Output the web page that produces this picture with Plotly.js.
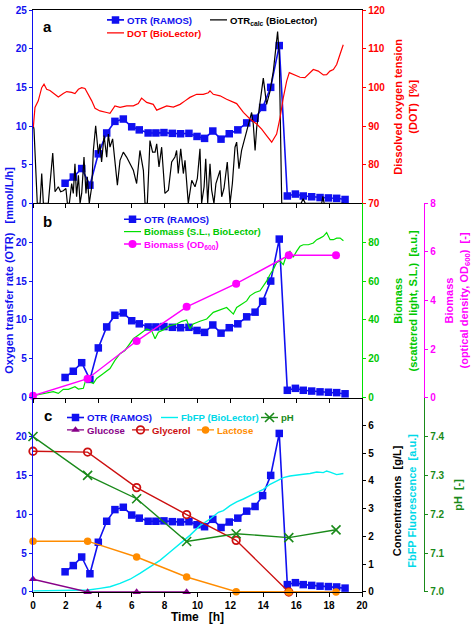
<!DOCTYPE html>
<html><head><meta charset="utf-8">
<script src="https://cdn.plot.ly/plotly-3.0.1.min.js"></script>
<style>html,body{margin:0;padding:0;background:#fff}#chart{width:473px;height:624px}</style>
</head><body><div id="chart"></div>
<script>
// ---------- data (time in h) ----------
const otrTime = [1.95,2.45,2.96,3.46,3.97,4.48,4.98,5.49,6.0,6.46,7.0,7.47,7.96,8.47,8.97,9.48,9.97,10.43,10.93,11.43,11.93,12.45,12.99,13.5,13.96,14.45,14.97,15.46,15.95,16.43,16.94,17.45,17.96,18.46,18.97];
const otrVals = [2.6,3.4,4.5,2.35,6.4,9.1,10.6,10.9,9.9,9.5,9.1,9.1,9.15,9.05,9.0,9.05,8.65,8.4,9.35,8.3,9.0,9.5,10.4,11.0,12.4,15.0,20.4,0.95,1.2,0.95,0.85,0.75,0.7,0.65,0.5];

const calcTime = [0.0,0.06,0.26,0.43,0.53,0.63,0.93,1.2,1.34,1.54,1.68,1.84,2.0,2.09,2.21,2.35,2.45,2.55,2.65,2.76,2.86,2.96,3.1,3.22,3.3,3.42,3.57,3.67,3.81,3.97,4.07,4.17,4.32,4.48,4.58,4.68,4.84,4.98,5.13,5.29,5.49,5.69,5.9,6.1,6.3,6.5,6.71,6.81,6.95,7.11,7.27,7.42,7.52,7.66,7.82,8.02,8.23,8.43,8.63,8.73,8.83,8.98,9.14,9.24,9.44,9.65,9.85,9.99,10.15,10.25,10.4,10.5,10.62,10.76,10.86,11.0,11.12,11.37,11.47,11.61,11.81,11.98,12.12,12.28,12.38,12.52,12.68,12.89,13.09,13.29,13.39,13.5,13.6,13.7,13.84,14.0,14.2,14.41,14.61,14.81,14.87,14.97,15.06,15.12,16.3,16.42,16.55,17.55,17.62,17.7,18.9];
const calcVals = [10.2,9.6,0,0,3.85,0,0,6.5,1.5,2.14,1.5,1.62,1.92,0,0,2.56,1.28,5.13,0.85,3.63,0,1.28,5.98,1.28,3.42,0,2.14,6.84,10.04,6.41,7.69,5.34,8.76,5.98,8.97,7.26,8.33,5.13,2.35,5.56,6.62,5.98,5.13,4.27,2.56,6.84,4.27,0,0,8.12,6.62,6.62,7.69,4.7,7.26,1.28,1.71,5.34,5.98,6.84,3.85,7.05,3.85,5.56,0,2.99,2.14,3.21,7.05,0,2.14,5.77,0,5.13,1.71,0,2.56,4.27,0.85,1.92,5.34,0,2.56,7.26,7.91,4.49,6.84,8.5,10.26,11.75,10.26,6.84,9.83,11.54,14.1,16.2,12.8,14.5,17.1,21.2,22.2,19.2,8.1,0,0,0.6,0,0,0.9,0,0];

const dotTime = [0.02,0.12,0.32,0.53,0.67,0.83,1.03,1.23,1.54,1.84,2.05,2.35,2.55,2.76,2.96,3.16,3.36,3.57,3.77,4.07,4.48,4.68,4.98,5.29,5.7,6.1,6.4,6.6,6.91,7.31,7.52,7.72,8.13,8.53,8.94,9.24,9.54,9.95,10.35,10.66,10.76,10.96,11.37,11.77,12.18,12.38,12.79,13.19,13.6,13.9,14.2,14.51,14.81,15.02,15.22,15.42,15.58,15.82,16.23,16.53,16.84,17.04,17.34,17.65,17.85,18.05,18.26,18.46,18.66,18.86];
const dotVals = [89.7,94.8,96.5,99.9,100.8,99.5,99.2,98.6,97.5,98.4,98.9,98.7,98.4,99.5,99.9,99.7,98.2,96.5,94.6,93.9,93.5,93.3,95.2,94.8,95.2,95.2,95.8,97.2,96.1,95.6,94.1,94.4,95.2,94.9,95.6,96.5,97.4,98.2,98.2,98.6,99.1,98.2,97.8,96.9,96.1,95.8,93.5,91.8,90.5,89.2,87.5,85.8,87.9,92.2,97.4,101.6,103.8,103.3,102.6,102.5,103.8,104.6,104.2,103.2,103.3,104.2,104.6,105.9,108.5,111];

const slTime = [0.02,0.63,1.23,1.54,1.84,2.15,2.35,2.55,2.76,3.06,3.26,3.46,3.67,3.87,4.28,4.68,4.98,5.29,5.59,5.9,6.1,6.5,6.91,7.21,7.42,7.62,7.92,8.33,8.73,9.04,9.34,9.54,9.74,10.15,10.56,10.96,11.37,11.77,12.18,12.38,12.68,12.99,13.19,13.5,13.8,14.0,14.2,14.41,14.61,14.81,15.01,15.22,15.42,15.62,15.82,16.03,16.23,16.43,16.74,17.04,17.25,17.45,17.65,17.85,18.06,18.26,18.46,18.67,18.87];
const slVals = [1.0,2.2,3.1,2.2,4.3,4.3,4.8,5.6,4.4,4.8,10.7,8.2,7.3,9.9,12.4,15,19.2,22.6,24.3,27.7,30.3,32.8,35.4,34.5,30.3,33.7,34.9,37.1,37.9,39.3,40,35.4,37.9,39.3,40.5,43.9,45.1,46.4,43,46.4,48.1,49.8,52.4,54.1,55,57.5,60,63.4,66,69.4,70.3,68.5,73.6,75.4,72.3,75.4,77.9,78.7,78.7,79.6,81.3,82.1,83,85,81.3,81.3,82.1,82.1,80.8];

const sampleTime = [0, 3.32, 6.3, 9.34, 12.35, 15.55, 18.42];
const odVals = [0.08, 0.78, 2.33, 3.74, 4.69, 5.86, 5.86];
const glucoseVals = [0.46, 0, 0, 0];
const glycerolVals = [5.07, 5.04, 3.76, 2.79, 1.86, 0.0];
const lactoseVals = [1.83, 1.83, 1.26, 0.54, 0.01, 0, 0];
const phVals = [7.40, 7.30, 7.24, 7.13, 7.15, 7.14, 7.16];

const fbTime = [0.02,3.36,4.07,4.68,5.29,5.9,6.5,7.11,7.72,8.33,8.94,9.54,10.15,10.76,11.27,11.57,11.98,12.38,12.79,13.19,13.6,14.0,14.41,14.81,15.22,15.62,16.03,16.43,16.84,17.25,17.65,17.85,18.06,18.26,18.46,18.87];
const fbVals = [0.04,0.07,0.13,0.19,0.31,0.46,0.67,0.9,1.14,1.44,1.74,2.04,2.39,2.63,2.87,2.93,3.11,3.25,3.35,3.46,3.58,3.7,3.88,4.0,4.12,4.18,4.2,4.24,4.27,4.32,4.3,4.36,4.32,4.27,4.23,4.27];

const otrTicks = [0,5,10,15,20];
const dotTicks = [70,80,90,100,110,120];
const slTicks = [0,20,40,60,80];
const odTicks = [0,2,4,6,8];
const concTicks = [0,1,2,3,4,5,6];
const phTicks = [7.0,7.1,7.2,7.3,7.4];
const phTickText = ['7.0','7.1','7.2','7.3','7.4'];

// ---------- style ----------
const FONT = 'Liberation Sans, Arial, Helvetica, sans-serif';
const BLUE = '#1010f0', RED = '#ff0000', BLACK = '#000000', GREEN = '#00e000', MAG = '#ff00ff';
const CYAN = '#00f0f0', PHG = '#1a8a1a', PURP = '#880088', GLYC = '#cc1010', ORNG = '#ff8c00';
const W = 473, H = 624, ML = 33, MR = 10, MT = 5, MB = 32;
const PW = W - ML - MR, PH = H - MT - MB;
const px = v => (v - ML) / PW;           // pixel x -> paper
const py = v => (H - MB - v) / PH;       // pixel y -> paper
const XD = px(362);
const dA = [py(200), 1], dB = [py(396), py(200)], dC = [0, py(396)];
const FREE = px(424);

const otrLine = (xa, ya, lg) => ({x: otrTime, y: otrVals, xaxis: xa, yaxis: ya, legend: lg, name: 'OTR (RAMOS)',
  type: 'scatter', mode: 'lines+markers', line: {color: BLUE, width: 1.6}, marker: {symbol: 'square', size: 7.5, color: BLUE}, cliponaxis: false});

const data = [
  otrLine('x', 'y', 'legend'),
  {x: calcTime, y: calcVals, xaxis: 'x', yaxis: 'y', legend: 'legend2', name: 'OTR<sub>calc</sub> (BioLector)', type: 'scatter', mode: 'lines', line: {color: BLACK, width: 1.2}},
  {x: dotTime, y: dotVals, xaxis: 'x', yaxis: 'y2', legend: 'legend3', name: 'DOT (BioLector)', type: 'scatter', mode: 'lines', line: {color: RED, width: 1.2}},

  otrLine('x2', 'y3', 'legend4'),
  {x: slTime, y: slVals, xaxis: 'x2', yaxis: 'y4', legend: 'legend5', name: 'Biomass (S.L., BioLector)', type: 'scatter', mode: 'lines', line: {color: GREEN, width: 1.2}},
  {x: sampleTime, y: odVals, xaxis: 'x2', yaxis: 'y5', legend: 'legend6', name: 'Biomass (OD<sub>600</sub>)', type: 'scatter', mode: 'lines+markers', line: {color: MAG, width: 1.4}, marker: {symbol: 'circle', size: 8, color: MAG}, cliponaxis: false},

  otrLine('x3', 'y6', 'legend7'),
  {x: fbTime, y: fbVals, xaxis: 'x3', yaxis: 'y7', legend: 'legend8', name: 'FbFP (BioLector)', type: 'scatter', mode: 'lines', line: {color: CYAN, width: 1.4}},
  {x: sampleTime.slice(0, glucoseVals.length), y: glucoseVals, xaxis: 'x3', yaxis: 'y7', legend: 'legend10', name: 'Glucose', type: 'scatter', mode: 'lines+markers', line: {color: PURP, width: 1.4}, marker: {symbol: 'triangle-up', size: 7.5, color: PURP}, cliponaxis: false},
  {x: sampleTime.slice(0, glycerolVals.length), y: glycerolVals, xaxis: 'x3', yaxis: 'y7', legend: 'legend11', name: 'Glycerol', type: 'scatter', mode: 'lines+markers', line: {color: GLYC, width: 1.4}, marker: {symbol: 'circle-open', size: 7.5, color: GLYC, line: {width: 1.8, color: GLYC}}, cliponaxis: false},
  {x: sampleTime, y: lactoseVals, xaxis: 'x3', yaxis: 'y7', legend: 'legend12', name: 'Lactose', type: 'scatter', mode: 'lines+markers', line: {color: ORNG, width: 1.4}, marker: {symbol: 'circle', size: 7.5, color: ORNG}, cliponaxis: false},
  {x: sampleTime, y: phVals, xaxis: 'x3', yaxis: 'y8', legend: 'legend9', name: 'pH', type: 'scatter', mode: 'lines+markers', line: {color: PHG, width: 1.4}, marker: {symbol: 'x-thin', size: 9, color: PHG, line: {width: 1.6, color: PHG}}, cliponaxis: false}
];

const tf = c => ({family: FONT, size: 10, color: c, weight: 'bold'});
const xBase = {domain: [0, XD], range: [0, 20], dtick: 2, tick0: 0, ticks: 'outside', ticklen: 4, tickcolor: BLACK,
  showline: true, linecolor: BLACK, linewidth: 1, showgrid: false, zeroline: false, showticklabels: false, fixedrange: true};
const yBase = (c, extra) => Object.assign({ticks: 'outside', ticklen: 3, tickcolor: c, showline: true, linecolor: c, linewidth: 1.2,
  showgrid: false, zeroline: false, tickfont: tf(c), tickmode: 'array', fixedrange: true}, extra);

const legFont = c => ({family: FONT, size: 9.6, color: c, weight: 'bold'});
const lg = (tx, ty, c) => ({x: px(tx - 40), y: py(ty), xanchor: 'left', yanchor: 'middle', orientation: 'v',
  bgcolor: 'rgba(0,0,0,0)', borderwidth: 0, font: legFont(c), itemclick: false});

const nb = s => s.replace(/ {2,}/g, m => '\u00a0'.repeat(m.length));
const ann = (text, x, y, c, size, angle) => ({text: nb(text), xref: 'paper', yref: 'paper', x: px(x), y: py(y), showarrow: false,
  xanchor: 'center', yanchor: 'middle', textangle: angle, font: {family: FONT, size: size, color: c, weight: 'bold'}});

const layout = {
  width: W, height: H, margin: {l: ML, r: MR, t: MT, b: MB},
  paper_bgcolor: '#ffffff', plot_bgcolor: 'rgba(0,0,0,0)', showlegend: true,
  xaxis: Object.assign({}, xBase, {anchor: 'y', mirror: true}),
  xaxis2: Object.assign({}, xBase, {anchor: 'y3'}),
  xaxis3: Object.assign({}, xBase, {anchor: 'y6', showticklabels: true, tickfont: tf(BLACK),
    title: {text: nb('Time   [h]'), font: {family: FONT, size: 12, color: BLACK, weight: 'bold'}, standoff: 7}}),
  yaxis: yBase(BLUE, {domain: dA, anchor: 'x', range: [0, 25], tickvals: otrTicks.concat([25])}),
  yaxis2: yBase(RED, {overlaying: 'y', side: 'right', anchor: 'x', range: [70, 120], tickvals: dotTicks}),
  yaxis3: yBase(BLUE, {domain: dB, anchor: 'x2', range: [0, 25], tickvals: otrTicks}),
  yaxis4: yBase(GREEN, {overlaying: 'y3', side: 'right', anchor: 'x2', range: [0, 100], tickvals: slTicks, tickfont: tf('#00c800')}),
  yaxis5: yBase(MAG, {overlaying: 'y3', side: 'right', anchor: 'free', position: FREE, range: [0, 8], tickvals: odTicks}),
  yaxis6: yBase(BLUE, {domain: dC, anchor: 'x3', range: [0, 25], tickvals: otrTicks}),
  yaxis7: yBase(BLACK, {overlaying: 'y6', side: 'right', anchor: 'x3', range: [0, 7], tickvals: concTicks}),
  yaxis8: yBase(PHG, {overlaying: 'y6', side: 'right', anchor: 'free', position: FREE, range: [7.0, 7.5], tickvals: phTicks, ticktext: phTickText}),

  legend: lg(127, 15, BLUE),
  legend2: lg(230, 15, BLACK),
  legend3: lg(127, 28, RED),
  legend4: lg(144, 216, BLUE),
  legend5: lg(144, 228.5, '#00c800'),
  legend6: lg(144, 241, MAG),
  legend7: lg(87, 416, BLUE),
  legend8: lg(181, 416, '#00d8e8'),
  legend9: lg(281, 416, PHG),
  legend10: lg(87, 428.5, PURP),
  legend11: lg(152, 428.5, GLYC),
  legend12: lg(217, 428.5, ORNG),

  annotations: [
    ann('a', 47.5, 22, BLACK, 15, 0),
    ann('b', 47.5, 218, BLACK, 15, 0),
    ann('c', 47.5, 414, BLACK, 15, 0),
    ann('Oxygen transfer rate (OTR)   [mmol/L/h]', 9, 268, BLUE, 11, -90),
    ann('Dissolved oxygen tension<br>(DOT)  [%]', 405.5, 103, RED, 11, -90),
    ann('Biomass<br>(scattered light, S.L.)  [a.u.]', 405, 298, '#00c800', 11, -90),
    ann('Biomass<br>(optical density, OD<sub>600</sub>)  [-]', 458, 298, MAG, 11, -90),
    ann('Concentrations  [g/L]<br><span style="color:#00d8e8">FbFP Fluorescence  [a.u.]</span>', 404, 500, BLACK, 11, -90),
    ann('pH  [-]', 458, 494, PHG, 11, -90)
  ]
};

Plotly.newPlot('chart', data, layout, {staticPlot: true, displayModeBar: false}).then(gd => {
  // compact legend sample glyphs, as in the original figure
  gd.querySelectorAll('.legendlines path').forEach(p => p.setAttribute('d', 'M20,0h17'));
  gd.querySelectorAll('.legendpoints path.scatterpts').forEach(p => p.setAttribute('transform', 'translate(28.5,0)'));
});
</script></body></html>
